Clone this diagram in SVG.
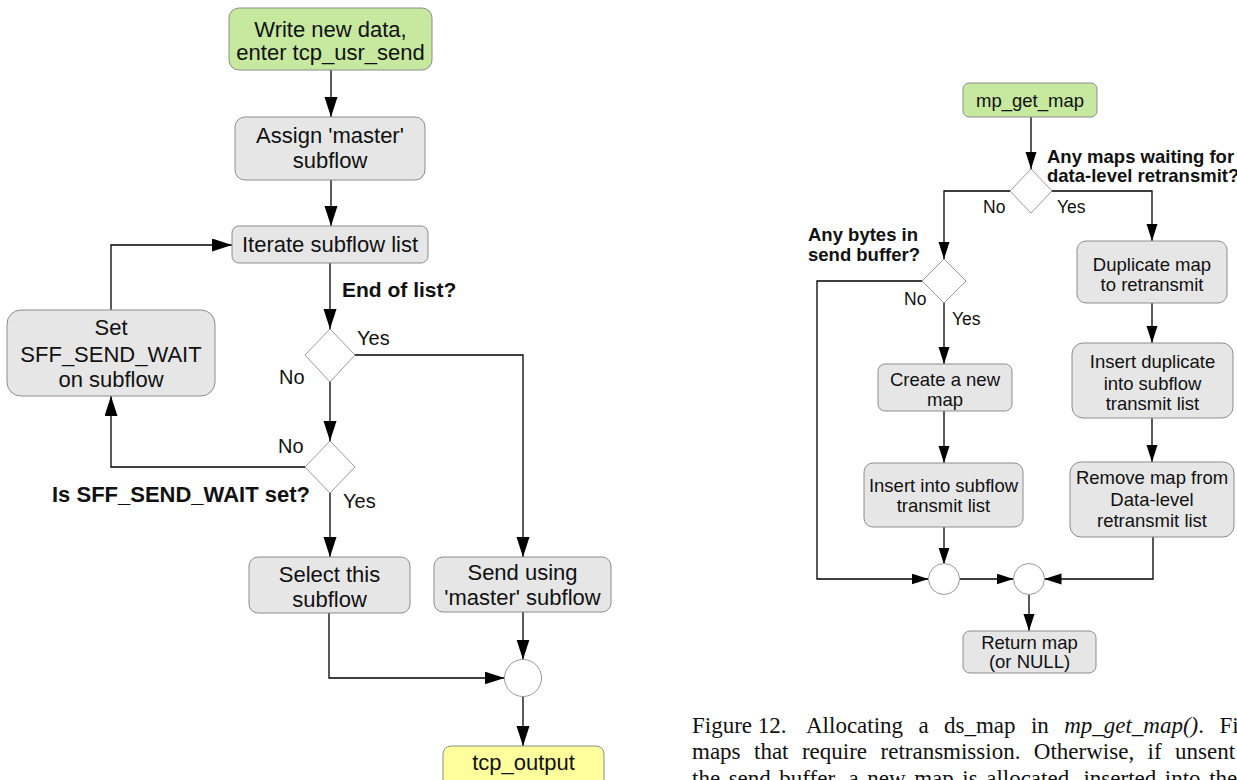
<svg xmlns="http://www.w3.org/2000/svg" width="1237" height="780" viewBox="0 0 1237 780">
  <defs>
    <marker id="arrowL" markerUnits="userSpaceOnUse" markerWidth="20" markerHeight="14" refX="20" refY="6.5" orient="auto">
      <path d="M0,0 L20,6.5 L0,13 z" fill="#000"/>
    </marker>
    <marker id="arrowR" markerUnits="userSpaceOnUse" markerWidth="17" markerHeight="12" refX="17" refY="5.5" orient="auto">
      <path d="M0,0 L17,5.5 L0,11 z" fill="#000"/>
    </marker>
  </defs>
  <style>
    .box { fill: #e6e6e6; stroke: #8c8c8c; stroke-width: 1; }
    .start { fill: #c6e89f; stroke: #8c8c8c; stroke-width: 1; }
    .end { fill: #fefe9c; stroke: #8c8c8c; stroke-width: 1; }
    .dec { fill: #fff; stroke: #999; stroke-width: 1; }
    .join { fill: #fff; stroke: #999; stroke-width: 1; }
    .wire { fill: none; stroke: #000; stroke-width: 1.3; }
    .wl { marker-end: url(#arrowL); }
    .wr { marker-end: url(#arrowR); }
    text { font-family: "Liberation Sans", Arial, sans-serif; fill: #111; }
    .tl { font-size: 22px; text-anchor: middle; }
    .tr { font-size: 18.5px; text-anchor: middle; }
    .yl { font-size: 20px; }
    .yr { font-size: 17.5px; }
    .q { font-weight: bold; }
    .cap { font-family: "Liberation Serif", "Times New Roman", serif; font-size: 23px; }
  </style>

  <!-- ===== tcp_usr_send flow ===== -->
  <g id="connectors-left">
    <line class="wire wl" x1="331" y1="70" x2="331" y2="117"/>
    <line class="wire wl" x1="331" y1="180" x2="331" y2="226"/>
    <line class="wire wl" x1="330" y1="263" x2="330" y2="329"/>
    <polyline class="wire wl" points="355,355 523,355 523,557"/>
    <line class="wire wl" x1="330" y1="382" x2="330" y2="441"/>
    <polyline class="wire wl" points="305,467 111,467 111,396"/>
    <polyline class="wire wl" points="111,310 111,245 232,245"/>
    <line class="wire wl" x1="330" y1="493" x2="330" y2="557"/>
    <polyline class="wire wl" points="329,613 329,678 504.5,678"/>
    <line class="wire wl" x1="523" y1="612" x2="523" y2="659.5"/>
    <line class="wire wl" x1="523" y1="696.5" x2="523" y2="746"/>
  </g>

  <g id="write-new-data">
    <rect class="start" x="229" y="8" width="203" height="62" rx="10"/>
    <text class="tl" x="330.5" y="37">Write new data,</text>
    <text class="tl" x="330.5" y="60">enter tcp_usr_send</text>
  </g>
  <g id="assign-master">
    <rect class="box" x="235" y="117" width="190" height="63" rx="10"/>
    <text class="tl" x="330" y="143">Assign 'master'</text>
    <text class="tl" x="330" y="168">subflow</text>
  </g>
  <g id="iterate-subflows">
    <rect class="box" x="232" y="226" width="196" height="37" rx="7"/>
    <text class="tl" x="330" y="252">Iterate subflow list</text>
  </g>
  <g id="end-of-list">
    <polygon class="dec" points="330,329 355,355 330,382 305,355"/>
    <text class="q" x="342" y="297" font-size="21">End of list?</text>
    <text class="yl" x="357" y="345">Yes</text>
    <text class="yl" x="279" y="384">No</text>
  </g>
  <g id="set-send-wait">
    <rect class="box" x="7" y="310" width="208" height="86" rx="14"/>
    <text class="tl" x="111" y="335">Set</text>
    <text class="tl" x="111" y="362">SFF_SEND_WAIT</text>
    <text class="tl" x="111" y="387">on subflow</text>
  </g>
  <g id="send-wait-set">
    <polygon class="dec" points="330,441 355,467 330,493 305,467"/>
    <text class="yl" x="278" y="453">No</text>
    <text class="q" x="52" y="502" font-size="22">Is SFF_SEND_WAIT set?</text>
    <text class="yl" x="343" y="508">Yes</text>
  </g>
  <g id="select-subflow">
    <rect class="box" x="249" y="557" width="161" height="56" rx="9"/>
    <text class="tl" x="329.5" y="582">Select this</text>
    <text class="tl" x="329.5" y="607">subflow</text>
  </g>
  <g id="send-master">
    <rect class="box" x="434" y="557" width="177" height="55" rx="9"/>
    <text class="tl" x="522.5" y="580">Send using</text>
    <text class="tl" x="522.5" y="605">'master' subflow</text>
  </g>
  <g id="join-left">
    <circle class="join" cx="523" cy="678" r="18.5"/>
  </g>
  <g id="tcp-output">
    <rect class="end" x="443" y="746" width="161" height="42" rx="8"/>
    <text class="tl" x="523.5" y="770">tcp_output</text>
  </g>

  <!-- ===== mp_get_map flow ===== -->
  <g id="connectors-right">
    <line class="wire wr" x1="1031" y1="117" x2="1031" y2="169"/>
    <polyline class="wire wr" points="1010,191 944,191 944,259"/>
    <polyline class="wire wr" points="1052,191 1152,191 1152,241"/>
    <polyline class="wire wr" points="923,281 817,281 817,579 928.5,579"/>
    <line class="wire wr" x1="944" y1="303" x2="944" y2="364"/>
    <line class="wire wr" x1="944" y1="411" x2="944" y2="463"/>
    <line class="wire wr" x1="944" y1="527" x2="944" y2="564.5"/>
    <line class="wire wr" x1="959.5" y1="579" x2="1013.5" y2="579"/>
    <line class="wire wr" x1="1152" y1="303" x2="1152" y2="343"/>
    <line class="wire wr" x1="1152" y1="418" x2="1152" y2="462"/>
    <polyline class="wire wr" points="1153,537 1153,579 1044.5,579"/>
    <line class="wire wr" x1="1029" y1="594.5" x2="1029" y2="631"/>
  </g>

  <g id="mp-get-map">
    <rect class="start" x="963" y="83" width="134" height="34" rx="6"/>
    <text class="tr" x="1030" y="107">mp_get_map</text>
  </g>
  <g id="maps-waiting">
    <polygon class="dec" points="1031,169 1052,191 1031,213 1010,191"/>
    <text class="q" x="1047" y="163" font-size="18.5">Any maps waiting for</text>
    <text class="q" x="1047" y="182" font-size="18.5">data-level retransmit?</text>
    <text class="yr" x="983" y="213">No</text>
    <text class="yr" x="1057" y="213">Yes</text>
  </g>
  <g id="bytes-in-buffer">
    <polygon class="dec" points="944,259 966,281 944,303 922,281"/>
    <text class="q" x="808" y="241" font-size="18.5">Any bytes in</text>
    <text class="q" x="808" y="261" font-size="18.5">send buffer?</text>
    <text class="yr" x="904" y="305">No</text>
    <text class="yr" x="952" y="325">Yes</text>
  </g>
  <g id="create-map">
    <rect class="box" x="878" y="364" width="134" height="47" rx="7"/>
    <text class="tr" x="945" y="386">Create a new</text>
    <text class="tr" x="945" y="406">map</text>
  </g>
  <g id="insert-subflow">
    <rect class="box" x="864" y="463" width="159" height="64" rx="9"/>
    <text class="tr" x="943.5" y="492">Insert into subflow</text>
    <text class="tr" x="943.5" y="512">transmit list</text>
  </g>
  <g id="duplicate-map">
    <rect class="box" x="1077" y="241" width="150" height="62" rx="9"/>
    <text class="tr" x="1152" y="271">Duplicate map</text>
    <text class="tr" x="1152" y="291">to retransmit</text>
  </g>
  <g id="insert-duplicate">
    <rect class="box" x="1072" y="343" width="161" height="75" rx="11"/>
    <text class="tr" x="1152.5" y="368">Insert duplicate</text>
    <text class="tr" x="1152.5" y="390">into subflow</text>
    <text class="tr" x="1152.5" y="410">transmit list</text>
  </g>
  <g id="remove-map">
    <rect class="box" x="1070" y="462" width="164" height="75" rx="11"/>
    <text class="tr" x="1152" y="484">Remove map from</text>
    <text class="tr" x="1152" y="506">Data-level</text>
    <text class="tr" x="1152" y="527">retransmit list</text>
  </g>
  <g id="join-right-a">
    <circle class="join" cx="944" cy="579" r="15.5"/>
  </g>
  <g id="join-right-b">
    <circle class="join" cx="1029" cy="579" r="15.5"/>
  </g>
  <g id="return-map">
    <rect class="box" x="963" y="631" width="133" height="42" rx="7"/>
    <text class="tr" x="1029.5" y="649">Return map</text>
    <text class="tr" x="1029.5" y="668">(or NULL)</text>
  </g>

  <!-- caption -->
  <g id="caption">
    <text class="cap" x="692" y="733">Figure 12.</text>
    <text class="cap" x="806" y="733" word-spacing="9.6">Allocating a ds_map in <tspan font-style="italic">mp_get_map()</tspan>. Fi</text>
    <text class="cap" x="692" y="759" word-spacing="7.7">maps that require retransmission. Otherwise, if unsent</text>
    <text class="cap" x="692" y="786" word-spacing="2.8">the send buffer, a new map is allocated, inserted into the</text>
  </g>
</svg>
